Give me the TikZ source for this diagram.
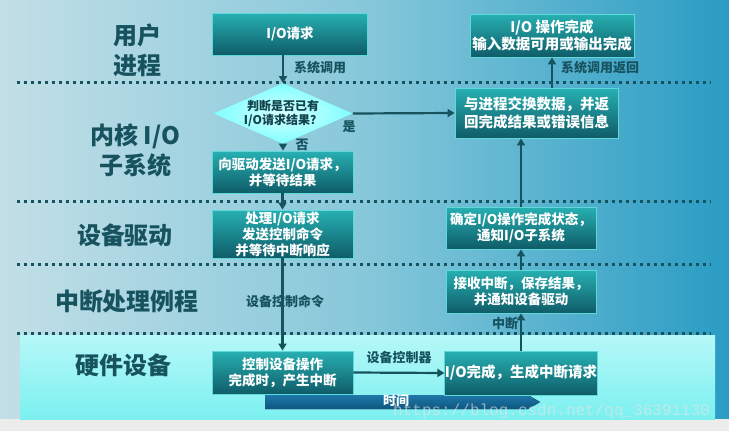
\documentclass[tikz,border=0pt]{standalone}
\usepackage{fontspec}
\setmainfont{Noto Sans CJK SC}
\newfontfamily\wmfont{Liberation Mono}
\usetikzlibrary{shapes.geometric,arrows.meta}
\definecolor{bgL}{HTML}{C2DFE7}
\definecolor{bgM}{HTML}{86C8DA}
\definecolor{bgR}{HTML}{2A9CC4}
\definecolor{hwT}{HTML}{B6F8F8}
\definecolor{hwB}{HTML}{7CF0F0}
\definecolor{boxT}{HTML}{27B0B2}
\definecolor{boxB}{HTML}{0F5C68}
\definecolor{boxE}{HTML}{5ED8D8}
\definecolor{dk}{HTML}{17535F}
\definecolor{bandA}{HTML}{1E78A8}
\definecolor{bandB}{HTML}{0E5680}
\tikzset{
  stagebox/.style={draw=boxE, line width=0.8pt, top color=boxT, bottom color=boxB,
    text=white, font=\bfseries\fontsize{13.5}{16}\selectfont, align=center,
    inner sep=0pt, anchor=center},
  bigbox/.style={stagebox, font=\bfseries\fontsize{14.5}{17.5}\selectfont},
  layerlabel/.style={text=dk, font=\bfseries\fontsize{24}{30}\selectfont, align=center},
  smalllabel/.style={text=dk, font=\bfseries\fontsize{13}{15}\selectfont, inner sep=1pt},
  arr/.style={draw=dk, line width=2.2pt, -{Triangle[length=7pt,width=8pt]}},
  dotline/.style={draw=dk, line width=3pt, dash pattern=on 3pt off 4pt},
}
\begin{document}
\begin{tikzpicture}[x=1pt,y=-1pt]
\useasboundingbox (0,0) rectangle (729,431);
% background
\shade[left color=bgL, right color=bgR, middle color=bgM] (0,0) rectangle (729,431);
\fill[white!85!gray] (0,419) rectangle (729,431);
\shade[top color=hwT, bottom color=hwB] (20,335) rectangle (715,419);
% dotted separators
\draw[dotline] (17,82) -- (711,82);
\draw[dotline] (17,201) -- (711,201);
\draw[dotline] (17,264) -- (711,264);
\draw[dotline] (17,333) -- (711,333);
% layer labels
\node[layerlabel] (l1) at (137,50) {用户\\进程};
\node[layerlabel] (l2) at (135,150) {内核 I/O\\子系统};
\node[layerlabel] (l3) at (125,235) {设备驱动};
\node[layerlabel] (l4) at (127,301) {中断处理例程};
\node[layerlabel] (l5) at (123,365) {硬件设备};
% time band
\fill[top color=bandA, bottom color=bandB] (265,395) -- (528,395) -- (540,402) -- (528,409) -- (265,409) -- cycle;
\node[text=white, font=\bfseries\fontsize{13}{15}\selectfont, inner sep=0pt] (tl) at (396,401) {时间};
% boxes
\node[stagebox, minimum width=155pt, minimum height=42pt] (b1) at (290,34) {I/O请求};
\node[diamond, minimum width=132pt, minimum height=58pt, inner sep=0pt, aspect=2.3,
      inner color=white!60!cyan!40, outer color=cyan!50!white, draw=none,
      text=dk!80!black, font=\bfseries\fontsize{12}{14}\selectfont, align=center] (dia) at (283,113.5) {判断是否已有\\I/O请求结果？};
\node[stagebox, minimum width=141pt, minimum height=42pt] (b3) at (282.5,172) {向驱动发送I/O请求，\\并等待结果};
\node[stagebox, minimum width=141pt, minimum height=48pt] (b4) at (282.5,234) {处理I/O请求\\发送控制命令\\并等待中断响应};
\node[stagebox, minimum width=141pt, minimum height=43pt] (b5) at (282.5,372.5) {控制设备操作\\完成时，产生中断};
\node[bigbox, minimum width=150pt, minimum height=44pt] (b6) at (521,373) {I/O完成，生成中断请求};
\node[stagebox, minimum width=150pt, minimum height=43pt] (b7) at (521,291.5) {接收中断，保存结果，\\并通知设备驱动};
\node[stagebox, minimum width=150pt, minimum height=42pt] (b8) at (521,228) {确定I/O操作完成状态，\\通知I/O子系统};
\node[bigbox, minimum width=163pt, minimum height=50pt] (b9) at (536.5,113) {与进程交换数据，并返\\回完成结果或错误信息};
\node[bigbox, minimum width=164pt, minimum height=43pt] (b10) at (552,35.5) {I/O 操作完成\\输入数据可用或输出完成};
% connectors
\draw[arr] (dia.north |- b1.south) -- (dia.north);
\draw[arr] (dia.south) -- (b3.north -| dia.south);
\draw[arr] (dia.east) -- (b9.west);
\draw[arr] (b3.south) -- (b4.north);
\draw[arr] (b4.south) -- (b5.north);
\draw[arr] (b5.east) -- (b6.west);
\draw[arr] (b6.north) -- (b7.south);
\draw[arr] (b7.north) -- (b8.south);
\draw[arr] (b8.north) -- (b8.north |- b9.south);
\draw[arr] (b10.south |- b9.north) -- (b10.south);
% connector labels
\node[smalllabel, anchor=west] (t1) at (293,68) {系统调用};
\node[smalllabel] (t2) at (302,145) {否};
\node[smalllabel] (t3) at (349,127) {是};
\node[smalllabel] (t4) at (285,301) {设备控制命令};
\node[smalllabel] (t5) at (399,358) {设备控制器};
\node[smalllabel] (t6) at (505,324) {中断};
\node[smalllabel, anchor=west] (t7) at (560,68) {系统调用返回};
% watermark
\node[text=white!80!gray, opacity=0.6, font=\wmfont\fontsize{16}{18}\selectfont, anchor=west, inner sep=0pt] (wm) at (393,411) {https://blog.csdn.net/qq\_36391130};
\end{tikzpicture}
\end{document}
